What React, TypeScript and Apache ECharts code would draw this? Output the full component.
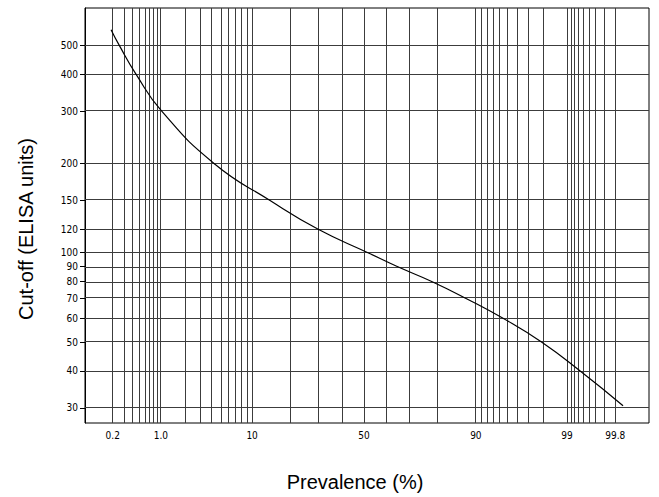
import React, { useEffect, useRef } from "react";
import * as echarts from "echarts";

// Curve: prevalence (%) vs cut-off (ELISA units)
const prevalence = [0.188, 0.253, 0.45, 1.025, 4.29, 14.1, 30.0, 51.8, 64.6, 78.1, 88.0, 94.5, 97.9, 99.33, 99.85];
const cutoff = [565, 500, 400, 300, 200, 150, 120, 100, 90, 80, 70, 60, 50, 40, 30.5];

// Axis labels
const xLabelValues = [0.2, 1.0, 10, 50, 90, 99, 99.8];
const xLabelTexts = ["0.2", "1.0", "10", "50", "90", "99", "99.8"];
const yLabelValues = [30, 40, 50, 60, 70, 80, 90, 100, 120, 150, 200, 300, 400, 500];

// Grid lines (graph paper)
const xGridValues = [
  0.2, 0.3, 0.4, 0.5, 0.6, 0.7, 0.8, 0.9,
  1, 2, 3, 4, 5, 6, 7, 8, 9,
  10, 20, 30, 40, 50, 60, 70, 80, 90,
  91, 92, 93, 94, 95, 96, 97, 98, 99,
  99.1, 99.2, 99.3, 99.4, 99.5, 99.6, 99.7, 99.8,
];
const yGridValues = [30, 40, 50, 60, 70, 80, 90, 100, 120, 150, 200, 300, 400, 500];

function invNorm(p: number): number {
  const a = [-3.969683028665376e1, 2.209460984245205e2, -2.759285104469687e2, 1.38357751867269e2, -3.066479806614716e1, 2.506628277459239];
  const b = [-5.447609879822406e1, 1.615858368580409e2, -1.556989798598866e2, 6.680131188771972e1, -1.328068155288572e1];
  const c = [-7.784894002430293e-3, -3.223964580411365e-1, -2.400758277161838, -2.549732539343734, 4.374664141464968, 2.938163982698783];
  const d = [7.784695709041462e-3, 3.224671290700398e-1, 2.445134137142996, 3.754408661907416];
  const pl = 0.02425;
  const ph = 1 - pl;
  let q: number, r: number;
  if (p < pl) {
    q = Math.sqrt(-2 * Math.log(p));
    return (((((c[0] * q + c[1]) * q + c[2]) * q + c[3]) * q + c[4]) * q + c[5]) / ((((d[0] * q + d[1]) * q + d[2]) * q + d[3]) * q + 1);
  }
  if (p <= ph) {
    q = p - 0.5;
    r = q * q;
    return ((((((a[0] * r + a[1]) * r + a[2]) * r + a[3]) * r + a[4]) * r + a[5]) * q) / (((((b[0] * r + b[1]) * r + b[2]) * r + b[3]) * r + b[4]) * r + 1);
  }
  q = Math.sqrt(-2 * Math.log(1 - p));
  return -(((((c[0] * q + c[1]) * q + c[2]) * q + c[3]) * q + c[4]) * q + c[5]) / ((((d[0] * q + d[1]) * q + d[2]) * q + d[3]) * q + 1);
}

const px = (pct: number) => invNorm(pct / 100);
const ly = (v: number) => Math.log10(v);

export default function App() {
  const ref = useRef<HTMLDivElement>(null);
  useEffect(() => {
    if (!ref.current) return;
    const chart = echarts.init(ref.current, null, { renderer: "svg" });
    const tickFont = "'Liberation Sans Narrow', 'DejaVu Sans Condensed', 'Liberation Sans', sans-serif";
    const gridColor = "#3c3c3c";
    chart.setOption({
      animation: false,
      backgroundColor: "#fff",
      grid: { left: 85, right: 10, top: 8, bottom: 74, show: true, borderColor: "#000", borderWidth: 1, backgroundColor: "transparent" },
      xAxis: {
        type: "value",
        min: -3.196,
        max: 3.265,
        splitLine: { show: false },
        axisLine: { show: false, onZero: false },
        axisTick: { show: false },
        axisLabel: {
          customValues: xLabelValues.map(px),
          margin: 7,
          fontSize: 10,
          fontFamily: tickFont,
          color: "#000",
          formatter: (v: number) => {
            const i = xLabelValues.findIndex((p) => Math.abs(px(p) - v) < 1e-6);
            return i >= 0 ? xLabelTexts[i] : "";
          },
        },
      },
      yAxis: {
        type: "value",
        min: 1.426,
        max: 2.825,
        splitLine: { show: false },
        axisLine: { show: true, onZero: false, lineStyle: { color: "#000", width: 1 } },
        axisTick: { show: true, customValues: yLabelValues.map(ly), length: 5, lineStyle: { color: "#000", width: 1 } },
        axisLabel: {
          customValues: yLabelValues.map(ly),
          margin: 7,
          fontSize: 10,
          fontFamily: tickFont,
          color: "#000",
          formatter: (v: number) => String(Math.round(Math.pow(10, v))),
        },
      },
      series: [
        {
          type: "line",
          data: prevalence.map((p, i) => [px(p), ly(cutoff[i])]),
          smooth: 0.5,
          showSymbol: false,
          lineStyle: { color: "#000", width: 1.2 },
          z: 5,
          markLine: {
            silent: true,
            symbol: ["none", "none"],
            label: { show: false },
            lineStyle: { color: gridColor, width: 1, type: "solid" },
            data: [
              ...xGridValues.map((v) => ({ xAxis: px(v) })),
              ...yGridValues.map((v) => ({ yAxis: ly(v) })),
            ],
          },
        },
      ],
      graphic: [
        {
          type: "text",
          x: 26,
          y: 229,
          rotation: Math.PI / 2,
          style: { text: "Cut-off (ELISA units)", fontSize: 20, fontFamily: "'Liberation Sans', Arial, sans-serif", fill: "#000", align: "center", verticalAlign: "middle" },
        },
        {
          type: "text",
          x: 355,
          y: 482,
          style: { text: "Prevalence (%)", fontSize: 20, fontFamily: "'Liberation Sans', Arial, sans-serif", fill: "#000", align: "center", verticalAlign: "middle" },
        },
      ],
    });
    return () => chart.dispose();
  }, []);
  return <div ref={ref} style={{ position: "fixed", left: 0, top: 0, width: 659, height: 497 }} />;
}
